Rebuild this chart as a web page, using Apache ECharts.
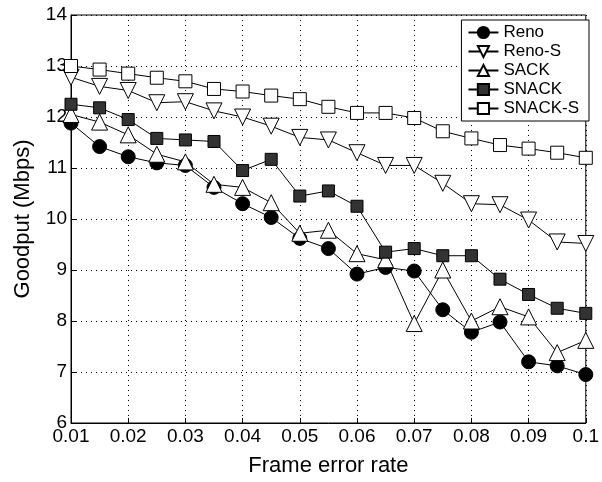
<!DOCTYPE html>
<html>
<head>
<meta charset="utf-8">
<script src="https://cdn.jsdelivr.net/npm/echarts@6/dist/echarts.min.js"></script>
<style>
  html, body { margin: 0; padding: 0; background: #fff; }
  #main { width: 602px; height: 482px; }
</style>
</head>
<body>
<div id="main"></div>
<script>
// frame error rate values
const errRates = [0.01, 0.015, 0.02, 0.025, 0.03, 0.035, 0.04, 0.045, 0.05, 0.055,
  0.06, 0.065, 0.07, 0.075, 0.08, 0.085, 0.09, 0.095, 0.1];

const reno = [11.88, 11.42, 11.22, 11.1, 11.05, 10.62, 10.3, 10.03, 9.62, 9.42,
  8.92, 9.05, 8.98, 8.22, 7.78, 7.98, 7.2, 7.12, 6.95];
const renoS = [12.78, 12.6, 12.52, 12.28, 12.3, 12.12, 12.0, 11.82, 11.6, 11.55,
  11.3, 11.05, 11.05, 10.7, 10.3, 10.28, 9.98, 9.55, 9.52];
const sack = [12.05, 11.9, 11.65, 11.27, 11.12, 10.68, 10.62, 10.32, 9.72, 9.78,
  9.32, 9.2, 7.95, 9.0, 8.0, 8.28, 8.08, 7.38, 7.62];
const snack = [12.25, 12.18, 11.95, 11.58, 11.55, 11.52, 10.95, 11.17, 10.45, 10.55,
  10.25, 9.35, 9.42, 9.28, 9.28, 8.82, 8.52, 8.25, 8.15];
const snackS = [13.0, 12.93, 12.85, 12.77, 12.7, 12.55, 12.5, 12.42, 12.35, 12.2,
  12.08, 12.08, 11.98, 11.72, 11.58, 11.45, 11.38, 11.3, 11.2];

const font = 'Liberation Sans';

function pairs(vals) {
  return vals.map((v, i) => [errRates[i], v]);
}

function mk(name, vals, symbol, fill, size, rotate) {
  return {
    name: name,
    type: 'line',
    data: pairs(vals),
    symbol: symbol,
    symbolSize: size,
    symbolRotate: rotate || 0,
    showAllSymbol: true,
    lineStyle: { color: '#000', width: 1 },
    itemStyle: { color: fill, borderColor: '#000', borderWidth: 1 },
    emphasis: { disabled: true },
    z: 3
  };
}

const chart = echarts.init(document.getElementById('main'));
const option = {
  animation: false,
  backgroundColor: '#fff',
  grid: {
    left: 71, right: 9, top: 15, bottom: 55,
    show: true, borderColor: '#000', borderWidth: 1
  },
  legend: {
    right: 13, top: 20,
    orient: 'vertical',
    backgroundColor: '#fff',
    borderColor: '#000',
    borderWidth: 1,
    padding: [4, 10, 4, 6],
    itemGap: 2,
    itemWidth: 30,
    itemHeight: 14,
    textStyle: { fontFamily: font, fontSize: 17, color: '#000' },
    data: ['Reno', 'Reno-S', 'SACK', 'SNACK', 'SNACK-S']
  },
  xAxis: {
    type: 'value',
    min: 0.01, max: 0.1, interval: 0.01,
    name: 'Frame error rate',
    nameLocation: 'middle',
    nameGap: 32,
    nameTextStyle: { fontFamily: font, fontSize: 22, color: '#000' },
    axisLine: { lineStyle: { color: '#000' } },
    axisTick: { inside: true, length: 5, lineStyle: { color: '#000' } },
    axisLabel: {
      fontFamily: font, fontSize: 19, color: '#000', margin: 4,
      formatter: v => String(+v.toFixed(3))
    },
    splitLine: { show: true, lineStyle: { color: '#000', type: [1, 4], width: 1 } }
  },
  yAxis: {
    type: 'value',
    min: 6, max: 14, interval: 1,
    name: 'Goodput (Mbps)',
    nameLocation: 'middle',
    nameGap: 37,
    nameTextStyle: { fontFamily: font, fontSize: 22, color: '#000' },
    axisLine: { show: true, lineStyle: { color: '#000' } },
    axisTick: { show: true, inside: true, length: 5, lineStyle: { color: '#000' } },
    axisLabel: { fontFamily: font, fontSize: 19, color: '#000', margin: 4 },
    splitLine: { show: true, lineStyle: { color: '#000', type: [1, 4], width: 1 } }
  },
  series: [
    mk('Reno', reno, 'circle', '#000', 14),
    mk('Reno-S', renoS, 'triangle', '#fff', 16, 180),
    mk('SACK', sack, 'triangle', '#fff', 16),
    mk('SNACK', snack, 'rect', '#333', 12),
    mk('SNACK-S', snackS, 'rect', '#fff', 13)
  ]
};
chart.setOption(option);
</script>
</body>
</html>
